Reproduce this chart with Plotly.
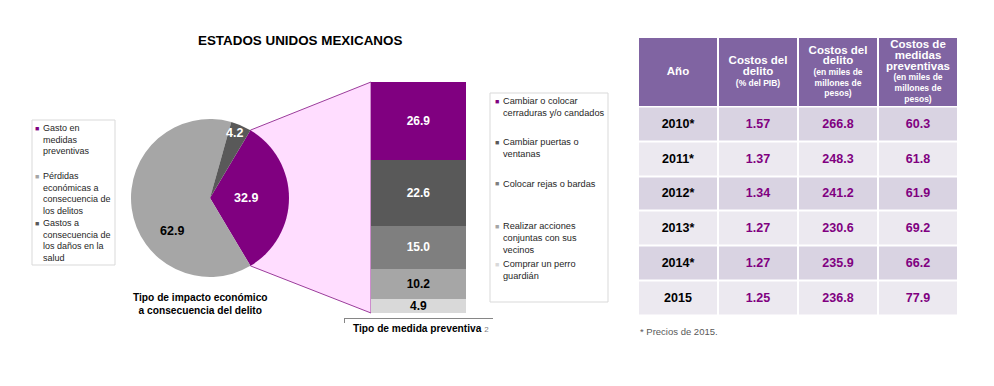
import math
import plotly.graph_objects as go

W, H = 994, 386
FONT = "Liberation Sans, Arial, sans-serif"

# ---------------- data ----------------
pie_labels = ["Gasto en medidas preventivas",
              "Pérdidas económicas a consecuencia de los delitos",
              "Gastos a consecuencia de los daños en la salud"]
pie_legend_text = ["Gasto en<br>medidas<br>preventivas",
                   "Pérdidas<br>económicas a<br>consecuencia de<br>los delitos",
                   "Gastos a<br>consecuencia de<br>los daños en la<br>salud"]
pie_values = [32.9, 62.9, 4.2]

measure_labels = ["Cambiar o colocar cerraduras y/o candados",
                  "Cambiar puertas o ventanas",
                  "Colocar rejas o bardas",
                  "Realizar acciones conjuntas con sus vecinos",
                  "Comprar un perro guardián"]
measure_legend_text = ["Cambiar o colocar<br>cerraduras y/o candados",
                       "Cambiar puertas o<br>ventanas",
                       "Colocar rejas o bardas",
                       "Realizar acciones<br>conjuntas con sus<br>vecinos",
                       "Comprar un perro<br>guardián"]
measure_values = [26.9, 22.6, 15.0, 10.2, 4.9]

years = ["2010*", "2011*", "2012*", "2013*", "2014*", "2015"]
cost_pct_gdp = [1.57, 1.37, 1.34, 1.27, 1.27, 1.25]
cost_crime = [266.8, 248.3, 241.2, 230.6, 235.9, 236.8]
cost_prevent = [60.3, 61.8, 61.9, 69.2, 66.2, 77.9]

header_main = ["Año", "Costos del<br>delito", "Costos del<br>delito",
               "Costos de<br>medidas<br>preventivas"]
header_sub = ["", "(% del PIB)", "(en miles de<br>millones de<br>pesos)",
              "(en miles de<br>millones de<br>pesos)"]

title_text = "ESTADOS UNIDOS MEXICANOS"
pie_caption = "Tipo de impacto económico<br>a consecuencia del delito"
bar_caption = "Tipo de medida preventiva"
footnote = "* Precios de 2015."

# ---------------- styles ----------------
PURPLE = "#800080"
pie_colors = [PURPLE, "#A6A6A6", "#595959"]
pie_text_colors = ["white", "black", "white"]
pie_label_pos = [(90, 0.45), (229, 0.63), (21, 0.88)]  # (angle deg clockwise from top, radius fraction)
measure_colors = [PURPLE, "#595959", "#7F7F7F", "#A6A6A6", "#D9D9D9"]
measure_text_colors = ["white", "white", "white", "black", "black"]
HEADER_FILL, ROW_DARK, ROW_LIGHT = "#8064A2", "#D9D3E2", "#ECE9F0"


def px(x):
    return x / W


def py(y):
    return 1 - y / H


# pie geometry (pixels)
CX, CY, R = 210, 198, 79
pie_dom_x = [px(CX - R), px(CX + R)]
pie_dom_y = [py(CY + R), py(CY - R)]
total = sum(pie_values)
rotation = 90 - 180 * pie_values[0] / total

# bar geometry
BAR_L, BAR_R = 371, 466
AX_L, AX_R = 344, 493
AX_BOTTOM, BAR_TOP = 318, 82
stack_total = sum(measure_values)
BASE_Y = 313
scale = (BASE_Y - BAR_TOP) / stack_total
ymin = -(AX_BOTTOM - BASE_Y) / scale

# table geometry (pixels)
T_L, T_R, T_TOP, T_BOT = 638, 958, 37, 315
HEAD_H = 69.5
row_h = (T_BOT - T_TOP - HEAD_H) / len(years)

fig = go.Figure()

fig.add_trace(go.Pie(
    labels=pie_labels, values=pie_values, sort=False, direction="clockwise",
    rotation=rotation, marker=dict(colors=pie_colors, line=dict(width=0)),
    textinfo="none", showlegend=False, hoverinfo="label+value",
    domain=dict(x=pie_dom_x, y=pie_dom_y),
))

for lab, val, col, tc in reversed(list(zip(measure_labels, measure_values,
                                          measure_colors, measure_text_colors))):
    fig.add_trace(go.Bar(
        x=["m"], y=[val], name=lab, marker=dict(color=col, line=dict(width=0)),
        text=[f"{val:.1f}"], texttemplate="<b>%{text}</b>", textposition="inside",
        insidetextanchor="middle", textangle=0, constraintext="none",
        textfont=dict(color=tc, size=12, family=FONT), showlegend=False,
        xaxis="x", yaxis="y",
    ))

# ---- table (drawn as a grid of cells) ----
col_edges = list(range(len(header_main) + 1))


def big(s):
    return "<br>".join(f"<span style='font-size:11.5px'><b>{l}</b></span>" for l in s.split("<br>"))


def small(s):
    return "<br>".join(f"<span style='font-size:8.5px'><b>{l}</b></span>" for l in s.split("<br>"))


header_text = [[big(m) + ("<br>" + small(s) if s else "") for m, s in zip(header_main, header_sub)]]
fig.add_trace(go.Heatmap(
    x=col_edges, y=[0, HEAD_H], z=[[0] * len(header_main)],
    text=header_text, texttemplate="%{text}",
    textfont=dict(size=8.2, color="white", family=FONT),
    colorscale=[[0, HEADER_FILL], [0.5, ROW_DARK], [1, ROW_LIGHT]], zmin=0, zmax=2,
    showscale=False, xgap=2, ygap=2, hoverinfo="skip", xaxis="x2", yaxis="y2",
))

body_edges = [HEAD_H + i * row_h for i in range(len(years) + 1)]
body_z = [[1 + (i % 2)] * 4 for i in range(len(years))]
body_text = [[f"<b>{y}</b>",
              f"<span style='color:{PURPLE}'><b>{a:.2f}</b></span>",
              f"<span style='color:{PURPLE}'><b>{b:.1f}</b></span>",
              f"<span style='color:{PURPLE}'><b>{c:.1f}</b></span>"]
             for y, a, b, c in zip(years, cost_pct_gdp, cost_crime, cost_prevent)]
fig.add_trace(go.Heatmap(
    x=col_edges, y=body_edges, z=body_z, text=body_text, texttemplate="%{text}",
    textfont=dict(size=12.5, color="black", family=FONT),
    colorscale=[[0, HEADER_FILL], [0.5, ROW_DARK], [1, ROW_LIGHT]], zmin=0, zmax=2,
    showscale=False, xgap=2, ygap=2, hoverinfo="skip", xaxis="x2", yaxis="y2",
))

shapes = []
annotations = []

# funnel connecting pie slice to stacked bar
a1 = math.radians(rotation)
a2 = math.radians(rotation + 360 * pie_values[0] / total)
p1 = (CX + R * math.sin(a1), CY - R * math.cos(a1))
p2 = (CX + R * math.sin(a2), CY - R * math.cos(a2))
path = (f"M {px(p1[0])},{py(p1[1])} L {px(BAR_L)},{py(BAR_TOP)} "
        f"L {px(BAR_L)},{py(BASE_Y)} L {px(p2[0])},{py(p2[1])} Z")
shapes.append(dict(type="path", xref="paper", yref="paper", path=path,
                   fillcolor="#FFDDFF", line=dict(color="#9B3C9B", width=1), layer="below"))


def ann(x, y, text, size, color="black", xanchor="center", yanchor="middle", align="center"):
    annotations.append(dict(x=px(x), y=py(y), xref="paper", yref="paper", showarrow=False,
                            text=text, xanchor=xanchor, yanchor=yanchor, align=align,
                            font=dict(size=size, color=color, family=FONT)))


# pie labels
for (ang, rf), val, tc in zip(pie_label_pos, pie_values, pie_text_colors):
    a = math.radians(ang)
    ann(CX + rf * R * math.sin(a), CY - rf * R * math.cos(a), f"<b>{val:.1f}</b>", 12.5, tc)

# legend boxes
shapes.append(dict(type="rect", xref="paper", yref="paper", x0=px(32), x1=px(115),
                   y0=py(265), y1=py(120), line=dict(color="#D9D9D9", width=1), layer="below"))
shapes.append(dict(type="rect", xref="paper", yref="paper", x0=px(490), x1=px(608),
                   y0=py(302), y1=py(93), line=dict(color="#D9D9D9", width=1), layer="below"))

left_legend_y = [128, 176, 223]
for txt, col, yy in zip(pie_legend_text, pie_colors, left_legend_y):
    ann(37, yy, "■", 7, col)
    ann(41, yy - 7, txt, 9, "#262626", xanchor="left", yanchor="top", align="left")

right_legend_y = [101, 142, 184, 226, 264]
for txt, col, yy in zip(measure_legend_text, measure_colors, right_legend_y):
    ann(497, yy, "■", 7, col)
    ann(501, yy - 7, txt, 9.2, "#262626", xanchor="left", yanchor="top", align="left")

ann(300, 40, f"<b>{title_text}</b>", 13.4)
ann(200, 303.5, f"<b>{pie_caption}</b>", 10.2)
ann(421, 328, f"<b>{bar_caption}</b> <span style='color:#7F7F7F;font-size:8px'>2</span>", 10.2)
ann(638, 331, footnote, 9.5, "#595959", xanchor="left")

fig.update_layout(
    width=W, height=H, margin=dict(l=0, r=0, t=0, b=0),
    paper_bgcolor="white", plot_bgcolor="rgba(0,0,0,0)",
    barmode="stack", bargap=1 - (BAR_R - BAR_L) / (AX_R - AX_L),
    xaxis=dict(domain=[px(AX_L), px(AX_R)], showline=True, linecolor="#868686", linewidth=1,
               ticks="outside", tickson="boundaries", ticklen=4, tickcolor="#868686",
               showticklabels=False, showgrid=False, zeroline=False, fixedrange=True),
    yaxis=dict(domain=[py(AX_BOTTOM), py(BAR_TOP)], range=[ymin, stack_total], visible=False,
               fixedrange=True),
    xaxis2=dict(domain=[px(T_L), px(T_R)], range=[0, len(header_main)], visible=False,
                fixedrange=True),
    yaxis2=dict(domain=[py(T_BOT), py(T_TOP)], range=[T_BOT - T_TOP, 0], visible=False,
                fixedrange=True),
    shapes=shapes, annotations=annotations,
    font=dict(family=FONT), showlegend=False,
)

fig.write_html("out.html", config={"displayModeBar": False},
               post_script="document.body.style.margin='0px';")
